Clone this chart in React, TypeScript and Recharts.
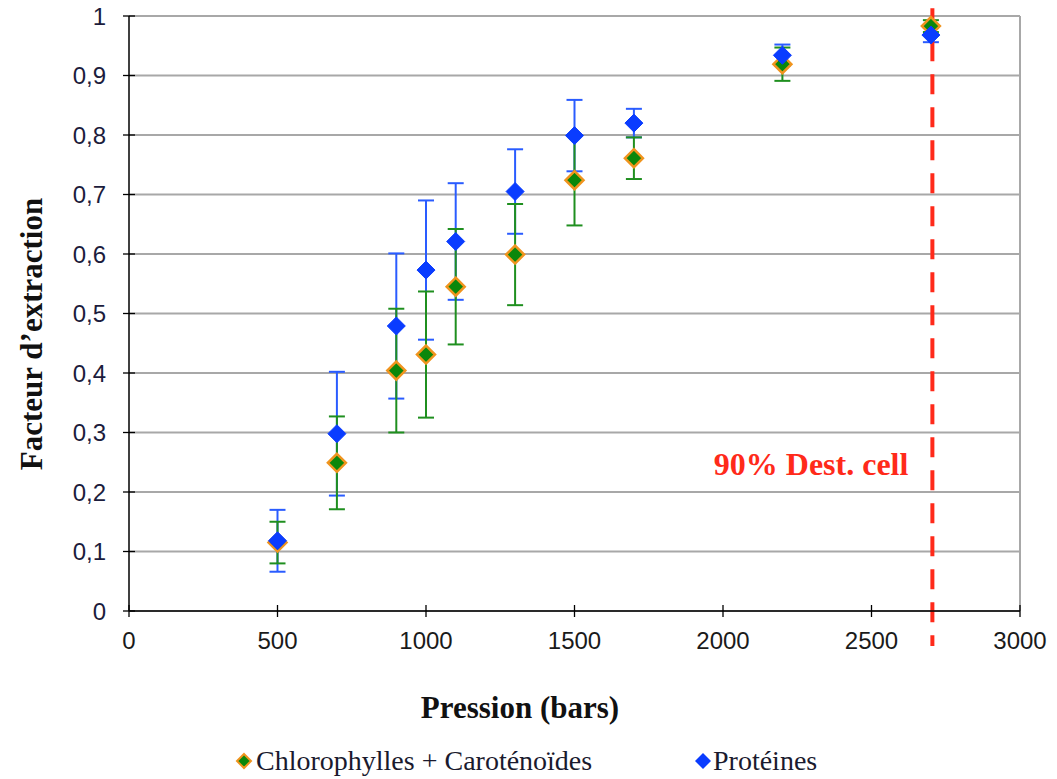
import React from "react";
import {
  ScatterChart,
  Scatter,
  XAxis,
  YAxis,
  CartesianGrid,
  ErrorBar,
  ReferenceLine,
  ReferenceDot,
  Legend,
} from "recharts";

// pressure (bars) of each measurement
const pressure = [500, 700, 900, 1000, 1100, 1300, 1500, 1700, 2200, 2700];
// Chlorophylles + Caroténoïdes
const chloro = [0.115, 0.249, 0.404, 0.431, 0.545, 0.599, 0.724, 0.761, 0.919, 0.983];
const chloroErr = [0.035, 0.078, 0.104, 0.106, 0.097, 0.085, 0.076, 0.035, 0.028, 0.01];
// Protéines
const protein = [0.118, 0.298, 0.479, 0.573, 0.621, 0.705, 0.799, 0.82, 0.934, 0.968];
const proteinErr = [0.052, 0.104, 0.122, 0.117, 0.098, 0.071, 0.06, 0.024, 0.018, 0.012];

const xTicks = [0, 500, 1000, 1500, 2000, 2500, 3000];
const yTicks = [0, 0.1, 0.2, 0.3, 0.4, 0.5, 0.6, 0.7, 0.8, 0.9, 1];
const destCell = 2705;

const chloroRows = pressure.map((p, i) => ({ p, v: chloro[i], err: chloroErr[i] }));
const proteinRows = pressure.map((p, i) => ({ p, v: protein[i], err: proteinErr[i] }));

const GREEN = "#0b870b";
const ORANGE = "#f0941e";
const BLUE = "#0a3cff";
const BLUE_BAR = "#2a5cff";
const RED = "#ff2a1a";

const fmtY = (v: number) => (v === 0 || v === 1 ? String(v) : v.toFixed(1).replace(".", ","));

const diamond = (fill: string, stroke: string, sw: number, r: number) => (props: any) => {
  const { cx, cy } = props;
  if (cx == null || cy == null) return <g />;
  return (
    <polygon
      points={`${cx},${cy - r} ${cx + r},${cy} ${cx},${cy + r} ${cx - r},${cy}`}
      fill={fill}
      stroke={stroke}
      strokeWidth={sw}
    />
  );
};

const XTick = (props: any) => {
  const { x, y, payload } = props;
  const ay = y - 21;
  return (
    <g>
      <line x1={x} x2={x} y1={ay - 6} y2={ay + 6} stroke="#000" strokeWidth={1.3} />
      <text x={x} y={y + 17} textAnchor="middle" fontSize={24} fill="#1a1a1a" fontFamily="'Liberation Sans', Arial, sans-serif">
        {payload.value}
      </text>
    </g>
  );
};

const YTick = (props: any) => {
  const { x, y, payload } = props;
  const ax = x + 23;
  return (
    <g>
      <line x1={ax - 6} x2={ax + 6} y1={y} y2={y} stroke="#000" strokeWidth={1.3} />
      <text x={x} y={y + 8.5} textAnchor="end" fontSize={24} fill="#1c1c3c" fontFamily="'Liberation Sans', Arial, sans-serif">
        {fmtY(payload.value)}
      </text>
    </g>
  );
};

const titleFont = "'Liberation Serif', 'Times New Roman', serif";

const renderLegend = () => (
  <div style={{ position: "relative", height: 34, fontFamily: titleFont, fontSize: 28, color: "#1a1a2e" }}>
    <div style={{ position: "absolute", left: 234, top: 0, display: "flex", alignItems: "center" }}>
      <svg width={20} height={20}>
        <polygon points="10,3 17,10 10,17 3,10" fill={GREEN} stroke={ORANGE} strokeWidth={2} />
      </svg>
      <span style={{ marginLeft: 2 }}>Chlorophylles + Caroténoïdes</span>
    </div>
    <div style={{ position: "absolute", left: 693, top: 0, display: "flex", alignItems: "center" }}>
      <svg width={20} height={20}>
        <polygon points="10,2 18,10 10,18 2,10" fill={BLUE} />
      </svg>
      <span style={{ marginLeft: 0 }}>Protéines</span>
    </div>
  </div>
);

export default function App() {
  return (
    <div style={{ position: "absolute", left: 0, top: 0, background: "#fff" }}>
      <ScatterChart width={1057} height={779} margin={{ top: 16, right: 37, bottom: 128, left: 69 }}>
        <CartesianGrid horizontal vertical={false} stroke="#a8a8a8" strokeWidth={2} />
        <ReferenceLine x={3000} stroke="#a8a8a8" strokeWidth={2} />
        <XAxis
          type="number"
          dataKey="p"
          domain={[0, 3000]}
          ticks={xTicks}
          height={40}
          tickSize={6}
          tickMargin={15}
          tickLine={false}
          axisLine={{ stroke: "#000", strokeWidth: 1.5 }}
          tick={<XTick />}
          interval={0}
          label={{
            content: () => (
              <text x={520} y={718} textAnchor="middle" fontSize={31} fontWeight="bold" fill="#111" fontFamily={titleFont}>
                Pression (bars)
              </text>
            ),
          }}
        />
        <YAxis
          type="number"
          dataKey="v"
          domain={[0, 1]}
          ticks={yTicks}
          width={60}
          tickSize={6}
          tickMargin={17}
          tickLine={false}
          axisLine={{ stroke: "#000", strokeWidth: 1.5 }}
          tick={<YTick />}
          interval={0}
          label={{
            content: () => (
              <text
                x={42}
                y={334}
                transform="rotate(-90 42 334)"
                textAnchor="middle"
                fontSize={31}
                fontWeight="bold"
                fill="#111"
                fontFamily={titleFont}
              >
                Facteur d’extraction
              </text>
            ),
          }}
        />
        {/* protein error bars drawn first, under the green markers */}
        <Scatter data={proteinRows} isAnimationActive={false} shape={() => <g />} legendType="none">
          <ErrorBar dataKey="err" direction="y" width={8} stroke={BLUE_BAR} strokeWidth={2} />
        </Scatter>
        <Scatter data={chloroRows} isAnimationActive={false} shape={diamond(GREEN, ORANGE, 2.5, 9)}>
          <ErrorBar dataKey="err" direction="y" width={8} stroke="#1f8f1f" strokeWidth={2} />
        </Scatter>
        <Scatter data={proteinRows} isAnimationActive={false} shape={diamond(BLUE, BLUE, 1, 9)} />
        <ReferenceLine
          segment={[
            { x: destCell, y: 1.013 },
            { x: destCell, y: -0.059 },
          ]}
          ifOverflow="visible"
          stroke={RED}
          strokeWidth={4}
          strokeDasharray="20 13"
        />
        <ReferenceDot
          x={destCell}
          y={0.248}
          r={0}
          fill="none"
          stroke="none"
          label={{
            value: "90% Dest. cell",
            position: "left",
            offset: 24,
            fill: RED,
            fontSize: 32,
            fontWeight: "bold",
            fontFamily: titleFont,
          }}
        />
        <Legend
          layout="horizontal"
          verticalAlign="middle"
          align="center"
          content={renderLegend}
          wrapperStyle={{ left: 0, top: 745, width: 1057 }}
        />
      </ScatterChart>
    </div>
  );
}
